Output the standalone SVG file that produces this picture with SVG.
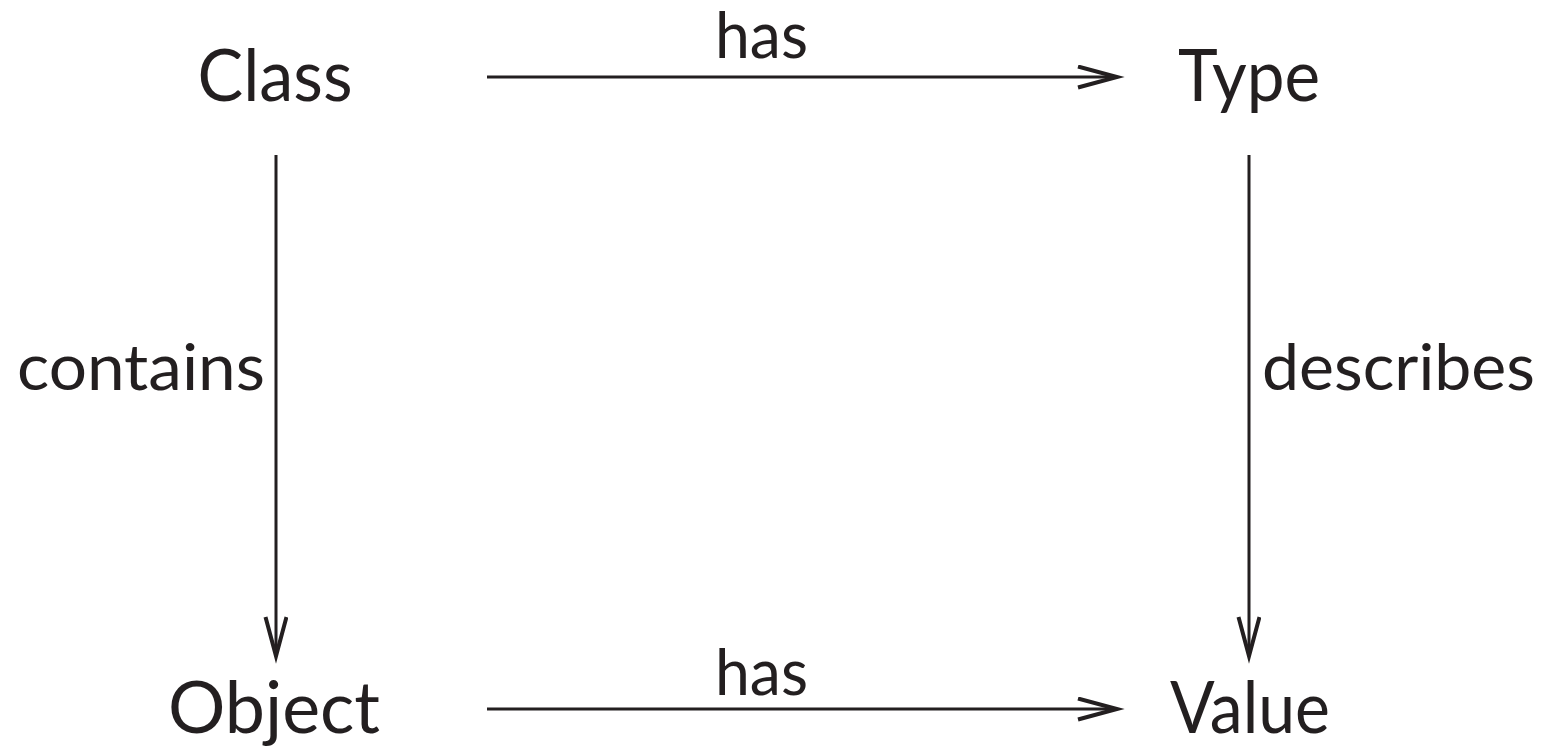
<svg xmlns="http://www.w3.org/2000/svg" width="1554" height="752" viewBox="0 0 1554 752">
<style>
.node{font-family:Lato,"Open Sans","Liberation Sans",sans-serif;font-size:71px;fill:#231f20;text-anchor:middle}
.lbl{font-family:Lato,"Open Sans","Liberation Sans",sans-serif;font-size:63px;fill:#231f20}
.edge{stroke:#231f20;stroke-width:3;fill:none}
</style>
<defs>
<marker id="ah" markerUnits="userSpaceOnUse" markerWidth="50" markerHeight="30" refX="40" refY="12" orient="auto" viewBox="0 0 50 30">
<path d="M1 1.5 L40 12 L1 22.5" fill="none" stroke="#231f20" stroke-width="4"/>
</marker>
</defs>
<rect width="1554" height="752" fill="#fff"/>
<g id="connectors">
<line class="edge" x1="487" y1="77" x2="1117" y2="77" marker-end="url(#ah)"/>
<line class="edge" x1="487" y1="709" x2="1117" y2="709" marker-end="url(#ah)"/>
<line class="edge" x1="276" y1="155" x2="276" y2="656" marker-end="url(#ah)"/>
<line class="edge" x1="1249" y1="155" x2="1249" y2="656" marker-end="url(#ah)"/>
<text class="lbl" x="715" y="58" textLength="93" lengthAdjust="spacingAndGlyphs">has</text>
<text class="lbl" x="715" y="695" textLength="93" lengthAdjust="spacingAndGlyphs">has</text>
<text class="lbl" x="17" y="390" textLength="248" lengthAdjust="spacingAndGlyphs">contains</text>
<text class="lbl" x="1262" y="390" textLength="273" lengthAdjust="spacingAndGlyphs">describes</text>
</g>
<g id="node-class"><text class="node" x="275" y="101" textLength="155" lengthAdjust="spacingAndGlyphs">Class</text></g>
<g id="node-type"><text class="node" x="1249" y="101" textLength="142" lengthAdjust="spacingAndGlyphs">Type</text></g>
<g id="node-object"><text class="node" x="274" y="733" textLength="212" lengthAdjust="spacingAndGlyphs">Object</text></g>
<g id="node-value"><text class="node" x="1250" y="733" textLength="160" lengthAdjust="spacingAndGlyphs">Value</text></g>
</svg>
